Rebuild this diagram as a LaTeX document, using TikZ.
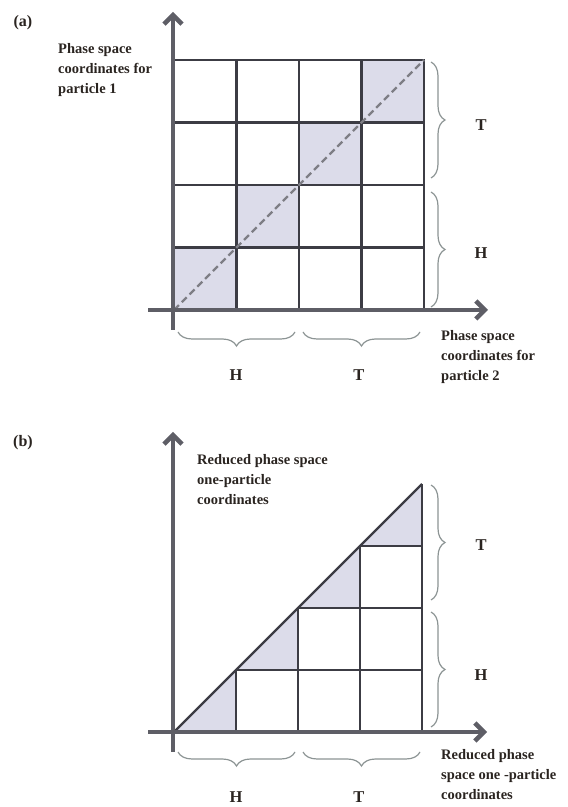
\documentclass[tikz,border=0pt]{standalone}
\usepackage{fontspec}
\setmainfont{Liberation Serif}
\usepackage{tikz}
\usetikzlibrary{arrows.meta,positioning,decorations.pathreplacing}

\definecolor{gridcol}{HTML}{3C3C44}
\definecolor{axiscol}{HTML}{5E5E66}
\definecolor{shadecol}{HTML}{DCDCEA}
\definecolor{bracecol}{HTML}{8C9494}
\definecolor{textcol}{HTML}{2A2420}

\begin{document}
\begin{tikzpicture}[
    x=1pt, y=1pt,
    cell/.style={draw=gridcol, line width=2.4pt},
    diagcell/.style={cell, fill=shadecol},
    axis/.style={draw=axiscol, line width=4.5pt, -{Straight Barb[length=9pt,width=18pt,line width=4.5pt]}},
    stem/.style={draw=axiscol, line width=4.5pt},
    curly/.style={draw=bracecol, line width=1.2pt, decorate, decoration={brace, amplitude=14pt}},
    lbl/.style={font=\fontsize{14.5}{20}\selectfont\bfseries, text=textcol, align=left, inner sep=0pt},
    side/.style={font=\fontsize{16.5}{20}\selectfont\bfseries, text=textcol, inner sep=0pt},
    tag/.style={font=\fontsize{16}{18}\selectfont\bfseries, text=textcol, inner sep=0pt}
]
\useasboundingbox (0,0) rectangle (568,807);

% ---- panel (a) ----
\node[tag] (taga) at (23,784) {(a)};
\begin{scope}[shift={(174,497)}]
  \foreach \i in {0,...,3}
    \foreach \j in {0,...,3} {
      \ifnum\i=\j
        \draw[diagcell] (\i*62.5,\j*62.5) rectangle ++(62.5,62.5);
      \else
        \draw[cell] (\i*62.5,\j*62.5) rectangle ++(62.5,62.5);
      \fi
    }
  \coordinate (oa) at (0,0);
  \coordinate (ta) at (250,250);
  \draw[axiscol!80, line width=2.2pt, dash pattern=on 7pt off 4pt] (oa) -- (ta);
\end{scope}
\coordinate (yabot) at (173,477);
\coordinate (yatop) at (173,795);
\coordinate (xaleft) at (148,497);
\coordinate (xaright) at (488,497);
\draw[stem] (yabot) -- (173,497);
\draw[axis] (173,497) -- (yatop);
\draw[axis] (xaleft) -- (xaright);

\node[lbl, anchor=north west] (p1) at (58,764) {Phase space\\coordinates for\\particle 1};
\node[lbl, anchor=north west] (p2) at (441,477) {Phase space\\coordinates for\\particle 2};

\coordinate (bat1) at (431,745);
\coordinate (bat2) at (431,629);
\coordinate (bah1) at (431,615);
\coordinate (bah2) at (431,500);
\draw[curly] (bat1) -- (bat2);
\draw[curly] (bah1) -- (bah2);
\node[side] (rta) at (481,682) {T};
\node[side] (rha) at (481,554) {H};

\coordinate (bbh1) at (295,475);
\coordinate (bbh2) at (178,475);
\coordinate (bbt1) at (420,475);
\coordinate (bbt2) at (303,475);
\draw[curly] (bbh1) -- (bbh2);
\draw[curly] (bbt1) -- (bbt2);
\node[side] (bha) at (236,432) {H};
\node[side] (bta) at (359,432) {T};

% ---- panel (b) ----
\node[tag] (tagb) at (23,364) {(b)};
\begin{scope}[shift={(174,75)}]
  \foreach \i in {0,...,3} {
    \fill[shadecol] (\i*62,\i*62) -- ++(62,0) -- ++(0,62) -- cycle;
    \foreach \j in {0,...,3} {
      \ifnum\i>\j
        \draw[cell] (\i*62,\j*62) rectangle ++(62,62);
      \fi
    }
    \draw[cell] (\i*62,\i*62) -- ++(62,0) -- ++(0,62);
  }
  \coordinate (ob) at (0,0);
  \coordinate (tb) at (248,248);
  \draw[cell] (ob) -- (tb);
\end{scope}
\coordinate (ybbot) at (173,55);
\coordinate (ybtop) at (173,375);
\coordinate (xbleft) at (148,75);
\coordinate (xbright) at (487,75);
\draw[stem] (ybbot) -- (173,75);
\draw[axis] (173,75) -- (ybtop);
\draw[axis] (xbleft) -- (xbright);

\node[lbl, anchor=north west] (q1) at (197,353) {Reduced phase space\\one-particle\\coordinates};
\node[lbl, anchor=north west] (q2) at (441,58) {Reduced phase\\space one -particle\\coordinates};

\coordinate (cbt1) at (431,322);
\coordinate (cbt2) at (431,207);
\coordinate (cbh1) at (431,195);
\coordinate (cbh2) at (431,80);
\draw[curly] (cbt1) -- (cbt2);
\draw[curly] (cbh1) -- (cbh2);
\node[side] (rtb) at (481,262) {T};
\node[side] (rhb) at (481,132) {H};

\coordinate (dbh1) at (295,55);
\coordinate (dbh2) at (178,55);
\coordinate (dbt1) at (420,55);
\coordinate (dbt2) at (303,55);
\draw[curly] (dbh1) -- (dbh2);
\draw[curly] (dbt1) -- (dbt2);
\node[side] (bhb) at (236,10) {H};
\node[side] (btb) at (359,10) {T};

\end{tikzpicture}
\end{document}
